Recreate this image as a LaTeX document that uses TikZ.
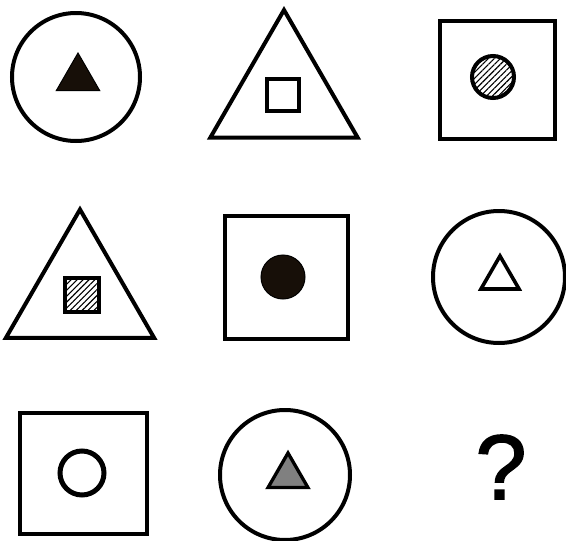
\documentclass[tikz,border=0pt]{standalone}
\usepackage{fontspec}
\setmainfont{Liberation Sans}
\newfontfamily\qfont[FakeBold=1.6]{Liberation Sans}
\usetikzlibrary{shapes.geometric, patterns.meta}
\tikzset{
  fig/.style    ={draw, line width=4pt, inner sep=0pt, outer sep=0pt},
  ring/.style   ={fig, circle, minimum size=#1},
  tri/.style    ={fig, regular polygon, regular polygon sides=3, minimum size=#1},
  frame/.style  ={fig, rectangle},
  hatch/.style  ={pattern={Lines[angle=45, distance=4.2pt, line width=1.1pt]}},
  darkfill/.style ={fill=black!88!brown, line width=1pt},
  speck/.style  ={fill=black!50},
  qmark/.style  ={font=\qfont\fontsize{92}{92}\selectfont},
}
\begin{document}
\begin{tikzpicture}[x=1pt, y=-1pt]
  \useasboundingbox (0,0) rectangle (566,541);
  % row 1
  \node[ring=128] (c11) at (76,77) {};
  \node[tri=50, darkfill] (i11) at (78,78) {};
  \node[tri=170] (c12) at (284,95) {};
  \node[frame, minimum size=32, line width=3.3pt] (i12) at (283,95) {};
  \node[frame, minimum width=115, minimum height=118] (c13) at (497.5,80) {};
  \node[ring=42, hatch, line width=4pt] (i13) at (493,77) {};
  % row 2
  \node[tri=171] (c21) at (80,295) {};
  \node[frame, minimum size=34, line width=3.3pt, hatch] (i21) at (82,295) {};
  \node[frame, minimum size=123] (c22) at (286.5,277.5) {};
  \node[ring=44, darkfill] (i22) at (283,277) {};
  \node[ring=132] (c23) at (499,277) {};
  \node[tri=44, line width=3.6pt] (i23) at (500,278) {};
  % row 3
  \node[frame, minimum width=127, minimum height=121] (c31) at (83.5,473.5) {};
  \node[ring=44, line width=5pt] (i31) at (82,473) {};
  \node[ring=130] (c32) at (285,475) {};
  \node[tri=46, speck, line width=3.3pt] (i32) at (288,476) {};
  \node[qmark] (q) at (501,467) {?};
\end{tikzpicture}
\end{document}
